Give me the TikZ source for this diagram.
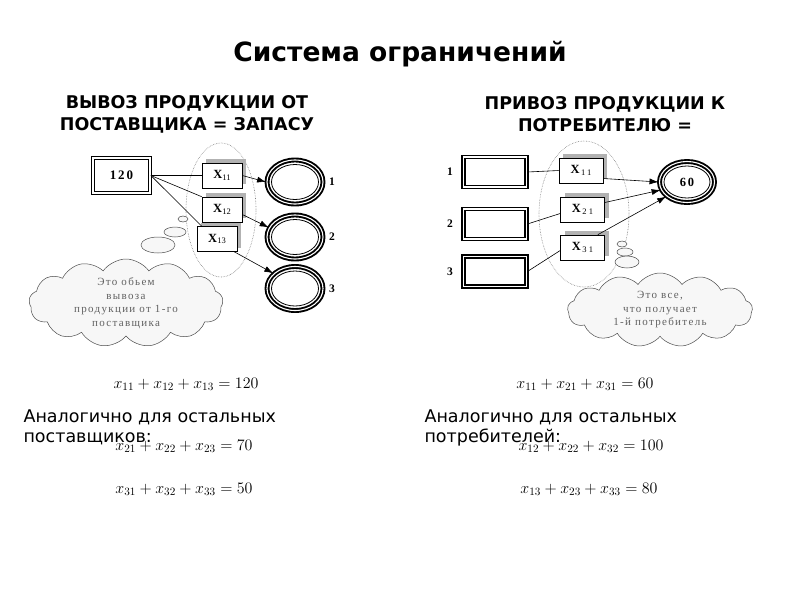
\documentclass[tikz,border=0pt]{standalone}
\usepackage{fix-cm}
\usepackage{fontspec}
\setmainfont{Liberation Serif}
\setsansfont{DejaVu Sans}
\usetikzlibrary{shapes.geometric,shapes.symbols,shadows,arrows.meta}
\newcommand\xlab[1]{\textbf{X}\raisebox{-1.5pt}{\fontsize{8.5}{8.5}\selectfont #1}}
\newcommand\xlabw[1]{\textbf{X}\hspace{1.5pt}\raisebox{-1.5pt}{\fontsize{8.5}{8.5}\selectfont\addfontfeatures{LetterSpace=25}#1}}
\begin{document}
\begin{tikzpicture}[x=1pt,y=-1pt,
    dbox/.style={draw, line width=1.8pt, double=white, double distance=1.1pt, fill=white, inner sep=0pt},
    xbox/.style={draw, fill=white, line width=0.6pt, minimum height=25pt, inner sep=0pt,
      drop shadow={shadow xshift=4pt, shadow yshift=4pt, fill=gray!60, opacity=1},
      font=\fontsize{12.5}{12.5}\selectfont},
    ring/.style={ellipse, draw, line width=1.9pt, double=white, double distance=1.1pt, inner sep=0pt},
    num/.style={font=\bfseries\fontsize{11.5}{11.5}\selectfont},
    conn/.style={line width=0.6pt},
    arr/.style={conn, -{Latex[length=9pt,width=6pt]}},
    zone/.style={draw=gray, densely dotted, line width=0.6pt},
    think/.style={cloud, cloud puffs=13, cloud puff arc=110, aspect=2.2, draw=black!70, fill=gray!6, line width=0.5pt, inner sep=0pt},
    bubble/.style={ellipse, draw=black!70, fill=gray!6, line width=0.5pt, inner sep=0pt},
    thought/.style={align=center, text=black!62, font=\fontsize{11}{13.5}\selectfont\addfontfeatures{LetterSpace=12}},
    eq/.style={anchor=base, font=\fontsize{16}{16}\selectfont},
    note/.style={anchor=base west, align=left, font=\sffamily\fontsize{17.5}{19.5}\selectfont},
    head/.style={align=center, font=\sffamily\bfseries\fontsize{17.5}{22}\selectfont}]
  \useasboundingbox (0,0) rectangle (800,600);

  % headings
  \node[font=\sffamily\bfseries\fontsize{26.5}{26.5}\selectfont] (title) at (400,54) {Система ограничений};
  \node[head] (headL) at (187,114) {ВЫВОЗ ПРОДУКЦИИ ОТ\\ПОСТАВЩИКА = ЗАПАСУ};
  \node[head] (headR) at (605,114) {ПРИВОЗ ПРОДУКЦИИ К\\ПОТРЕБИТЕЛЮ =};

  % supplier side
  \draw[zone] (221,210) ellipse [x radius=35pt, y radius=67pt];
  \node[dbox, minimum width=57pt, minimum height=35pt, font=\bfseries\fontsize{13}{13}\selectfont\addfontfeatures{LetterSpace=15}] (stock) at (121.5,175.5) {120};
  \foreach \j/\x/\y in {1/222/175.5, 2/222/209.5, 3/217/239}
    \node[xbox, minimum width=40pt] (xa\j) at (\x,\y) {\xlab{1\j}};
  \foreach \j/\y in {1/182, 2/237, 3/288.5} {
    \node[ring, minimum width=56pt, minimum height=44pt] (ra\j) at (295,\y) {};
    \draw[line width=0.8pt] (ra\j.center) ellipse [x radius=23.5pt, y radius=17.5pt];
    \node[num] (na\j) at (332,\y) {\j};
  }
  \draw[conn] (stock.east) -- (xa1.west);
  \draw[conn] (stock.east) -- (xa2.north west);
  \draw[conn] (stock.east) -- ([xshift=5pt]xa3.north west);
  \draw[arr] (xa1.east) -- (ra1.west);
  \draw[arr] ([yshift=-5pt]xa2.east) -- (ra2.160);
  \draw[arr] ([xshift=-3pt]xa3.south east) -- (ra3.145);

  \node[bubble, minimum width=10pt, minimum height=6pt] (bA1) at (183,219) {};
  \node[bubble, minimum width=22pt, minimum height=10pt] (bA2) at (175,232) {};
  \node[bubble, minimum width=34pt, minimum height=16pt] (bA3) at (158,245) {};
  \node[think, minimum width=194pt, minimum height=88pt] (cloudA) at (126,303) {};
  \node[thought] (txtA) at (cloudA.center) {Это обьем\\вывоза\\продукции от 1-го\\поставщика};

  % consumer side
  \draw[zone] (584,214) ellipse [x radius=45pt, y radius=73pt];
  \foreach \i/\y in {1/172, 2/224, 3/271.5} {
    \node[dbox, minimum width=63pt, minimum height=30pt] (src\i) at (495,\y) {};
    \node[num] (nb\i) at (450,\y) {\i};
  }
  \foreach \i/\x/\y in {1/581/170.5, 2/582.5/209.5, 3/582.5/247.5}
    \node[xbox, minimum width=44pt] (xb\i) at (\x,\y) {\xlabw{\i1}};
  \node[ring, minimum width=55pt, minimum height=41pt, font=\bfseries\fontsize{12.5}{12.5}\selectfont\addfontfeatures{LetterSpace=15}] (dst) at (687,182) {60};
  \draw[line width=0.8pt] (dst.center) ellipse [x radius=23pt, y radius=16pt];
  \draw[conn] (src1.east) -- (xb1.west);
  \draw[conn] (src2.east) -- ([yshift=-4pt]xb2.west);
  \draw[conn] (src3.east) -- ([yshift=-3pt]xb3.west);
  \draw[arr] ([yshift=-8pt]xb1.east) -- (dst.west);
  \draw[arr] ([yshift=7pt]xb2.east) -- (dst.197);
  \draw[arr] ([xshift=-7pt]xb3.north east) -- (dst.215);

  \node[bubble, minimum width=10pt, minimum height=6pt] (bB1) at (622,244) {};
  \node[bubble, minimum width=16pt, minimum height=8pt] (bB2) at (625,252) {};
  \node[bubble, minimum width=24pt, minimum height=12pt] (bB3) at (627,262) {};
  \node[think, minimum width=185pt, minimum height=74pt] (cloudB) at (660,310) {};
  \node[thought] (txtB) at (cloudB.center) {Это все,\\что получает\\1-й потребитель};

  % equations
  \node[eq] (eqA1) at (186,388) {$x_{11}+x_{12}+x_{13}=120$};
  \node[eq] (eqA2) at (184,450) {$x_{21}+x_{22}+x_{23}=70$};
  \node[eq] (eqA3) at (184,493) {$x_{31}+x_{32}+x_{33}=50$};
  \node[eq] (eqB1) at (585,388) {$x_{11}+x_{21}+x_{31}=60$};
  \node[eq] (eqB2) at (591,450) {$x_{12}+x_{22}+x_{32}=100$};
  \node[eq] (eqB3) at (589,493) {$x_{13}+x_{23}+x_{33}=80$};
  \node[note] (noteA) at (20,442) {Аналогично для остальных\\поставщиков:};
  \node[note] (noteB) at (421,442) {Аналогично для остальных\\потребителей:};
\end{tikzpicture}
\end{document}
